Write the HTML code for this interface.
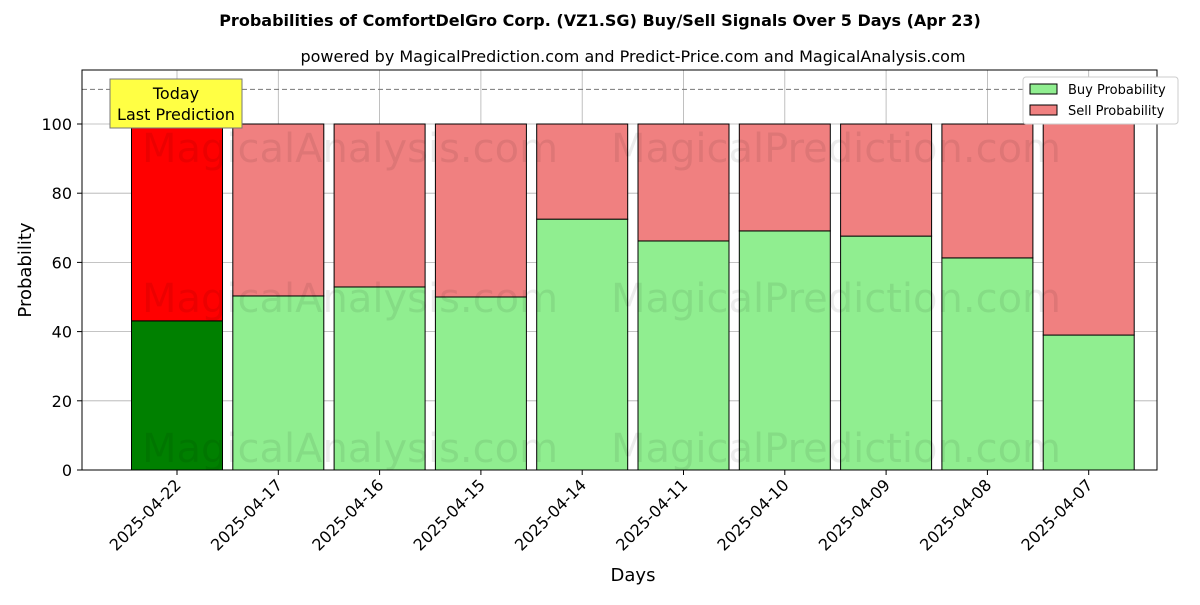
<!DOCTYPE html>
<html><head><meta charset="utf-8"><style>
body{margin:0;background:#fff;}
svg text{font-family:"DejaVu Sans","Liberation Sans",sans-serif;}
</style></head><body>
<svg id="chart" width="1200" height="600" xmlns="http://www.w3.org/2000/svg">
<rect width="1200" height="600" fill="#fff"/>
<text x="600" y="26" text-anchor="middle" font-size="16" font-weight="bold">Probabilities of ComfortDelGro Corp. (VZ1.SG) Buy/Sell Signals Over 5 Days (Apr 23)</text>
<text x="633" y="62" text-anchor="middle" font-size="16">powered by MagicalPrediction.com and Predict-Price.com and MagicalAnalysis.com</text>
<g id="grid"></g>
<g id="bars"></g>
<g id="wm" font-size="40" fill="#000" opacity="0.07">
<text x="350" y="162" text-anchor="middle">MagicalAnalysis.com</text>
<text x="836" y="162" text-anchor="middle">MagicalPrediction.com</text>
<text x="350" y="312" text-anchor="middle">MagicalAnalysis.com</text>
<text x="836" y="312" text-anchor="middle">MagicalPrediction.com</text>
<text x="350" y="462" text-anchor="middle">MagicalAnalysis.com</text>
<text x="836" y="462" text-anchor="middle">MagicalPrediction.com</text>
</g>
<line x1="82" x2="1157" y1="89.4" y2="89.4" stroke="#777" stroke-dasharray="5,3"/>
<g id="axes"></g>
<rect x="82" y="70" width="1075" height="400" fill="none" stroke="#000"/>
<g>
<rect x="110" y="79" width="132" height="49" fill="#ffff44" stroke="#777"/>
<text x="176" y="99" text-anchor="middle" font-size="16">Today</text>
<text x="176" y="120" text-anchor="middle" font-size="16">Last Prediction</text>
</g>
<g>
<rect x="1023" y="77" width="155" height="47" fill="#fff" stroke="#ccc" rx="3"/>
<rect x="1030" y="84" width="27" height="10" fill="#90ee90" stroke="#000"/>
<text x="1068" y="94" font-size="13">Buy Probability</text>
<rect x="1030" y="105" width="27" height="10" fill="#f08080" stroke="#000"/>
<text x="1068" y="115" font-size="13">Sell Probability</text>
</g>
<text x="633" y="581" text-anchor="middle" font-size="18">Days</text>
<text transform="translate(31,270) rotate(-90)" text-anchor="middle" font-size="18">Probability</text>
</svg>
<script>
const categories=["2025-04-22","2025-04-17","2025-04-16","2025-04-15","2025-04-14","2025-04-11","2025-04-10","2025-04-09","2025-04-08","2025-04-07"];
const buyValues=[43.1,50.3,52.9,50.0,72.5,66.2,69.1,67.6,61.3,39.0];
const yTicks=[0,20,40,60,80,100];
const NS="http://www.w3.org/2000/svg";
const y=v=>470-v*3.46;
const x=i=>177+101.3*i;
const bw=91;
function mk(tag,attrs,parent){const e=document.createElementNS(NS,tag);for(const k in attrs)e.setAttribute(k,attrs[k]);parent.appendChild(e);return e;}
const grid=document.getElementById('grid'),bars=document.getElementById('bars'),axes=document.getElementById('axes');
yTicks.forEach(t=>{
 const l=mk('line',{x1:82,x2:1157,y1:y(t),y2:y(t),stroke:'#b0b0b0','stroke-width':0.8},grid);
 
 
 mk('line',{x1:77,x2:82,y1:y(t),y2:y(t),stroke:'#000'},axes);
 const tx=mk('text',{x:72,y:y(t)+6,'text-anchor':'end','font-size':16},axes);
 tx.textContent=t;
 
 
});
categories.forEach((c,i)=>{
 const cx=x(i);
 const g=mk('line',{x1:cx,x2:cx,y1:70,y2:470,stroke:'#b0b0b0','stroke-width':0.8},grid);
 
 
 const b=buyValues[i];
 const buy=mk('rect',{x:cx-bw/2,y:y(b),width:bw,height:y(0)-y(b),fill:i==0?'#008000':'#90ee90',stroke:'#000','stroke-width':1},bars);
 
 
 const sell=mk('rect',{x:cx-bw/2,y:y(100),width:bw,height:y(b)-y(100),fill:i==0?'#ff0000':'#f08080',stroke:'#000','stroke-width':1},bars);
 
 
 mk('line',{x1:cx,x2:cx,y1:470,y2:475,stroke:'#000'},axes);
 const tx=mk('text',{transform:`translate(${cx+5},${486}) rotate(-45)`,'text-anchor':'end','font-size':16},axes);
 tx.textContent=c;
 
 
});
</script>
</body></html>
